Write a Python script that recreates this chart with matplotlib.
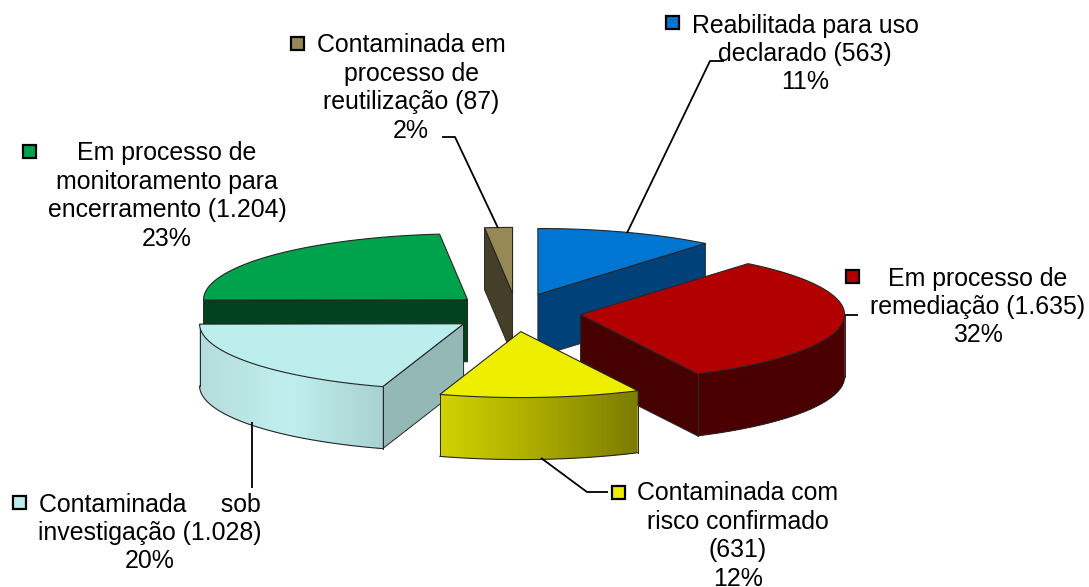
import numpy as np
import matplotlib
matplotlib.use('Agg')
import matplotlib.pyplot as plt
from matplotlib.patches import Polygon, Rectangle

plt.rcParams['font.family'] = ['Liberation Sans', 'DejaVu Sans']

# clockwise from 12 o'clock
categories = ['Reabilitada para uso\ndeclarado (563)\n11%',
              'Em processo de\nremediação (1.635)\n32%',
              'Contaminada com\nrisco confirmado\n(631)\n12%',
              'Contaminada     sob\ninvestigação (1.028)\n20%',
              'Em processo de\nmonitoramento para\nencerramento (1.204)\n23%',
              'Contaminada em\nprocesso de\nreutilização (87)\n2%']
values = [563, 1635, 631, 1028, 1204, 87]
top_colors = ['#0076d2', '#b20000', '#eeee00', '#bdeeee', '#00a34b', '#968955']
radial_colors = ['#00417a', '#460000', '#8a8a00', '#94b8b5', '#00411e', '#453e28']
arc_colors = [['#00417a'] * 3,
              ['#4a0000'] * 3,
              ['#d2d200', '#aaaa00', '#7c7c00'],
              ['#b5dcdc', '#c0eeee', '#a8d2d0'],
              ['#00411e'] * 3,
              ['#453e28'] * 3]
draw_order = [5, 0, 4, 3, 1, 2]

label_x = [805, 978, 738, 150, 167, 411]
label_y = [54, 307, 536, 533, 196, 88]
key_x = [672, 852, 618, 19, 29, 297]
key_y = [22, 276, 492, 502, 151, 43]

leaders = [[(627, 233), (710, 61), (724, 61)],
           [(845, 315), (858, 315)],
           [(541, 458), (587, 492), (608, 492)],
           [(252, 422), (252, 488)],
           [(442, 137), (455, 137), (498, 228)]]

cx, cy = 516, 312.5
rx, ry = 264, 66
depth = 62
explode = 65
edge = '#262626'


def ramp(stops, t):
    rgb = np.array([matplotlib.colors.to_rgb(c) for c in stops])
    pos = np.linspace(0, 1, len(stops))
    return [np.interp(t, pos, rgb[:, i]) for i in range(3)]


fig = plt.figure(figsize=(10.89, 5.87), dpi=100)
ax = fig.add_axes([0, 0, 1, 1])
ax.set_xlim(0, 1089)
ax.set_ylim(587, 0)
ax.axis('off')

edges = np.r_[0, np.cumsum(values)] / sum(values) * 2 * np.pi

for n, i in enumerate(draw_order):
    z = 1 + n
    a, b = edges[i], edges[i + 1]
    mid = (a + b) / 2
    x0 = cx + explode * np.sin(mid)
    y0 = cy - explode / 3.4 * np.cos(mid)
    th = np.linspace(a, b, 120)
    xs = x0 + rx * np.sin(th)
    ys = y0 - ry * np.cos(th)

    # radial sides, only those turned to the viewer
    for t, show in ((a, np.sin(a) < 0), (b, np.sin(b) > 0)):
        if show:
            xr, yr = x0 + rx * np.sin(t), y0 - ry * np.cos(t)
            ax.add_patch(Polygon([(x0, y0), (xr, yr), (xr, yr + depth), (x0, y0 + depth)],
                                 fc=radial_colors[i], ec=edge, lw=0.7, zorder=z))

    # outer wall in overlapping strips so it can carry the gradient without seams
    front = np.cos(th) < 0
    if front.sum() > 1:
        fx, fy = xs[front], ys[front]
        last = len(fx) - 1
        for k in range(last):
            e = min(k + 3, last)
            t = (fx[k] - fx.min()) / max(fx.max() - fx.min(), 1)
            ax.add_patch(Polygon(np.c_[np.r_[fx[k:e + 1], fx[k:e + 1][::-1]],
                                       np.r_[fy[k:e + 1], fy[k:e + 1][::-1] + depth]],
                                 fc=ramp(arc_colors[i], t), ec='none', zorder=z))
        ax.plot(fx, fy + depth, color=edge, lw=0.8, zorder=z)
        ax.plot([fx[0], fx[0]], [fy[0], fy[0] + depth], color=edge, lw=0.7, zorder=z)
        ax.plot([fx[-1], fx[-1]], [fy[-1], fy[-1] + depth], color=edge, lw=0.7, zorder=z)

    ax.add_patch(Polygon(np.c_[np.r_[x0, xs], np.r_[y0, ys]],
                         fc=top_colors[i], ec=edge, lw=0.8, joinstyle='round', zorder=z))

for pts in leaders:
    p = np.array(pts)
    ax.plot(p[:, 0], p[:, 1], color='black', lw=1.3, solid_capstyle='butt', zorder=20)

for i, txt in enumerate(categories):
    ax.text(label_x[i], label_y[i], txt, ha='center', va='center', fontsize=17.9,
            linespacing=1.23, color='black', zorder=21)
    ax.add_patch(Rectangle((key_x[i] - 6.5, key_y[i] - 6.5), 13, 13, fc=top_colors[i],
                           ec='black', lw=1.6, zorder=21))

fig.savefig('out.png', dpi=100)
